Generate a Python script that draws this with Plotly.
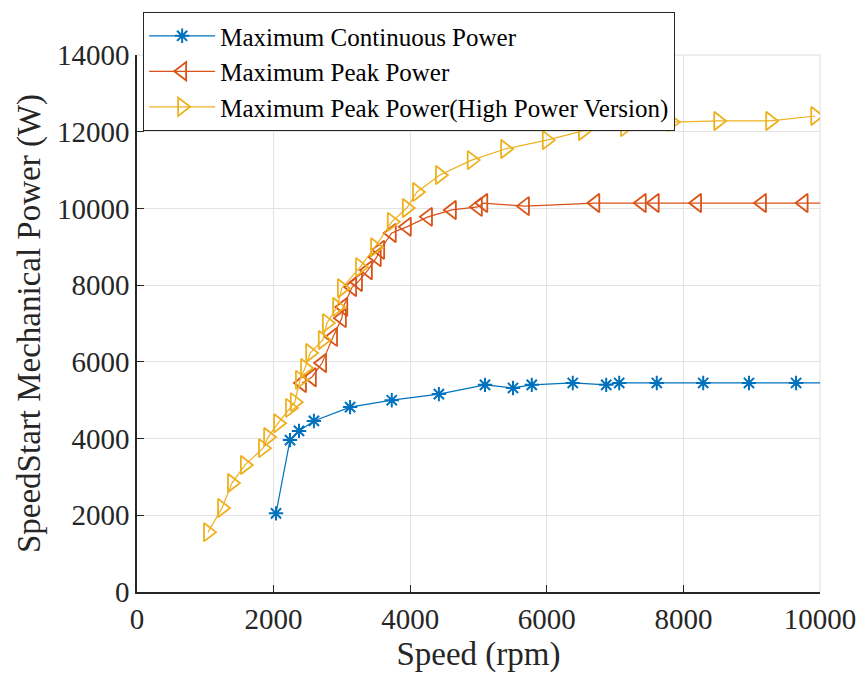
import plotly.graph_objects as go

cont_x = [2035, 2240, 2372, 2590, 3120, 3730, 4420, 5095, 5505, 5780, 6380, 6870, 7060, 7610, 8290, 8960, 9650, 10350]
cont_y = [2050, 3960, 4200, 4460, 4820, 5000, 5160, 5400, 5320, 5400, 5450, 5400, 5450, 5450, 5450, 5450, 5450, 5450]

peak_x = [2415, 2560, 2710, 2870, 3000, 3020, 3150, 3235, 3380, 3510, 3560, 3730, 3950, 4260, 4610, 4990, 5070, 5680, 6710, 7390, 7580, 8200, 9150, 9760, 10350]
peak_y = [5450, 5600, 5970, 6650, 7140, 7430, 7950, 8080, 8390, 8730, 8920, 9360, 9520, 9780, 9960, 10040, 10140, 10060, 10140, 10140, 10140, 10140, 10140, 10140, 10140]

hp_x = [1040, 1245, 1390, 1580, 1845, 1920, 2065, 2240, 2310, 2385, 2460, 2535, 2720, 2780, 2930, 3000, 3265, 3485, 3730, 3950, 4100, 4435, 4900, 5390, 6000, 6530, 7145, 7830, 8510, 9270, 9930]
hp_y = [1560, 2190, 2840, 3310, 3750, 4040, 4400, 4800, 4950, 5530, 5840, 6230, 6570, 7010, 7430, 7920, 8470, 8990, 9650, 10010, 10430, 10870, 11260, 11550, 11780, 12020, 12120, 12250, 12280, 12280, 12410]

x_ticks = [0, 2000, 4000, 6000, 8000, 10000]
y_ticks = [0, 2000, 4000, 6000, 8000, 10000, 12000, 14000]

fig = go.Figure()
fig.add_trace(go.Scatter(x=cont_x, y=cont_y, mode="lines+markers", name="Maximum Continuous Power",
                         line=dict(color="#0072BD", width=1.2),
                         marker=dict(symbol="asterisk-open", size=12, color="#0072BD", line=dict(width=2, color="#0072BD"))))
fig.add_trace(go.Scatter(x=peak_x, y=peak_y, mode="lines+markers", name="Maximum Peak Power",
                         line=dict(color="#D95319", width=1.2),
                         marker=dict(symbol="triangle-left-open", size=16, color="#D95319", line=dict(width=1.8, color="#D95319"))))
fig.add_trace(go.Scatter(x=hp_x, y=hp_y, mode="lines+markers", name="Maximum Peak Power(High Power Version)",
                         line=dict(color="#EDB120", width=1.2),
                         marker=dict(symbol="triangle-right-open", size=16, color="#EDB120", line=dict(width=1.8, color="#EDB120"))))

font = "Liberation Serif"
fig.update_layout(
    width=858, height=675,
    margin=dict(l=137, r=38, t=55, b=83, autoexpand=False),
    paper_bgcolor="white", plot_bgcolor="white",
    font=dict(family=font, size=27, color="#262626"),
    legend=dict(x=0.009, y=1.08, xanchor="left", yanchor="top",
                bgcolor="white", bordercolor="#262626", borderwidth=1,
                font=dict(family=font, size=25, color="#000000"),
                itemwidth=66, tracegroupgap=0),
    xaxis=dict(range=[0, 10000], tickvals=x_ticks, ticktext=[str(v) for v in x_ticks],
               showgrid=True, gridcolor="#E3E3E3", gridwidth=1,
               showline=True, linecolor="#262626", linewidth=1.5, mirror=False,
               ticks="inside", ticklen=7, tickcolor="#262626", zeroline=False,
               tickfont=dict(size=29), automargin=False,
               title=dict(text="Speed (rpm)", font=dict(size=33), standoff=8)),
    yaxis=dict(range=[0, 14000], tickvals=y_ticks, ticktext=[str(v) for v in y_ticks],
               showgrid=True, gridcolor="#E3E3E3", gridwidth=1,
               showline=True, linecolor="#262626", linewidth=1.5, mirror=False,
               ticks="inside", ticklen=7, tickcolor="#262626", zeroline=False,
               tickfont=dict(size=29), automargin=False,
               title=dict(text="SpeedStart Mechanical Power (W)", font=dict(size=33), standoff=6)),
    shapes=[
        dict(type="line", xref="paper", yref="paper", x0=0, x1=1, y0=1, y1=1,
             line=dict(color="#DCDCDC", width=1), layer="below"),
        dict(type="line", xref="paper", yref="paper", x0=1, x1=1, y0=0, y1=1,
             line=dict(color="#DCDCDC", width=1), layer="below"),
    ],
)
fig.write_html("out.html")
